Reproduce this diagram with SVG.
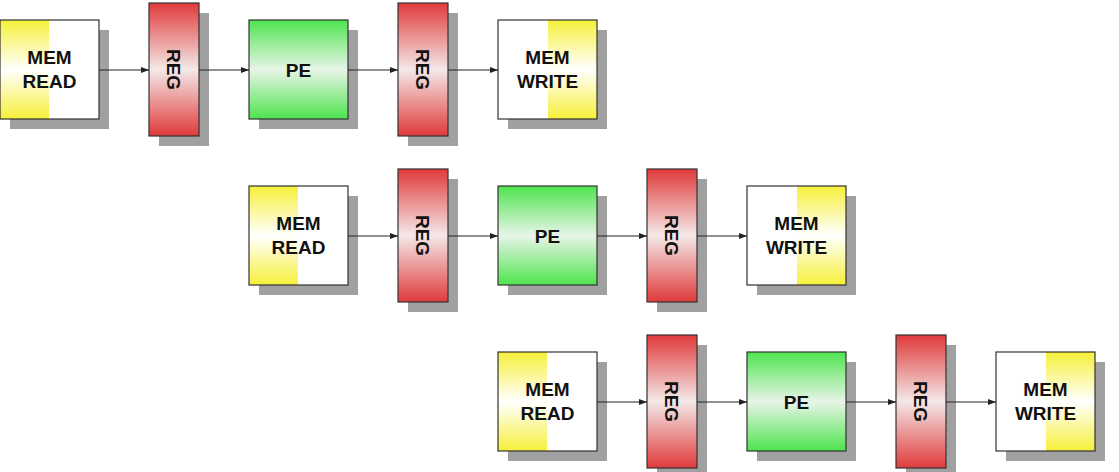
<svg xmlns="http://www.w3.org/2000/svg" width="1119" height="472" viewBox="0 0 1119 472">
<defs>
<linearGradient id="gy" x1="0" y1="0" x2="0" y2="1"><stop offset="0" stop-color="#f6f03a"/><stop offset="0.5" stop-color="#ffffff"/><stop offset="1" stop-color="#f6f03a"/></linearGradient>
<linearGradient id="gr" x1="0" y1="0" x2="0" y2="1"><stop offset="0" stop-color="#e03a3a"/><stop offset="0.5" stop-color="#f4e8e8"/><stop offset="1" stop-color="#e03a3a"/></linearGradient>
<linearGradient id="gg" x1="0" y1="0" x2="0" y2="1"><stop offset="0" stop-color="#4ee44e"/><stop offset="0.5" stop-color="#e8f4e8"/><stop offset="1" stop-color="#4ee44e"/></linearGradient>
<marker id="ah" markerWidth="8" markerHeight="6" refX="8" refY="3" orient="auto" markerUnits="userSpaceOnUse"><path d="M0,0 L8,3 L0,6 z" fill="#222"/></marker>
<g id="memr"><rect x="10" y="10" width="99" height="99" fill="#a0a0a0"/><rect x="0" y="0" width="99" height="99" fill="#fff"/><rect x="0" y="0" width="49" height="99" fill="url(#gy)"/><rect x="0" y="0" width="99" height="99" fill="none" stroke="#333" stroke-width="1.2"/><text x="49.5" y="44" class="t">MEM</text><text x="49.5" y="68" class="t">READ</text></g>
<g id="memw"><rect x="10" y="10" width="99" height="99" fill="#a0a0a0"/><rect x="0" y="0" width="99" height="99" fill="#fff"/><rect x="50" y="0" width="49" height="99" fill="url(#gy)"/><rect x="0" y="0" width="99" height="99" fill="none" stroke="#333" stroke-width="1.2"/><text x="49.5" y="44" class="t">MEM</text><text x="49.5" y="68" class="t">WRITE</text></g>
<g id="reg"><rect x="10" y="10" width="50" height="133" fill="#a0a0a0"/><rect x="0" y="0" width="50" height="133" fill="url(#gr)" stroke="#333" stroke-width="1.2"/><text class="t" transform="translate(25,66.5) rotate(90)" y="7">REG</text></g>
<g id="pe"><rect x="10" y="10" width="99" height="99" fill="#a0a0a0"/><rect x="0" y="0" width="99" height="99" fill="url(#gg)" stroke="#333" stroke-width="1.2"/><text x="49.5" y="57" class="t">PE</text></g>
</defs>
<style>.t{font-family:"Liberation Sans",Arial,sans-serif;font-weight:bold;font-size:19px;fill:#111;text-anchor:middle}.c{stroke:#222;stroke-width:1.2;fill:none;marker-end:url(#ah)}</style>
<rect width="1119" height="472" fill="#fff"/>
<g id="r1_memread"><use href="#memr" x="0" y="20"/></g>
<g id="r1_reg1"><use href="#reg" x="149" y="3"/></g>
<g id="r1_pe"><use href="#pe" x="249" y="20"/></g>
<g id="r1_reg2"><use href="#reg" x="398" y="3"/></g>
<g id="r1_memwrite"><use href="#memw" x="498" y="20"/></g>
<g id="r2_memread"><use href="#memr" x="249" y="186"/></g>
<g id="r2_reg1"><use href="#reg" x="398" y="169"/></g>
<g id="r2_pe"><use href="#pe" x="498" y="186"/></g>
<g id="r2_reg2"><use href="#reg" x="647" y="169"/></g>
<g id="r2_memwrite"><use href="#memw" x="747" y="186"/></g>
<g id="r3_memread"><use href="#memr" x="498" y="352"/></g>
<g id="r3_reg1"><use href="#reg" x="647" y="335"/></g>
<g id="r3_pe"><use href="#pe" x="747" y="352"/></g>
<g id="r3_reg2"><use href="#reg" x="896" y="335"/></g>
<g id="r3_memwrite"><use href="#memw" x="996" y="352"/></g>
<g id="connectors">
<path class="c" d="M99,70 H149"/><path class="c" d="M199,70 H249"/><path class="c" d="M348,70 H398"/><path class="c" d="M448,70 H498"/>
<path class="c" d="M348,236 H398"/><path class="c" d="M448,236 H498"/><path class="c" d="M597,236 H647"/><path class="c" d="M697,236 H747"/>
<path class="c" d="M597,402 H647"/><path class="c" d="M697,402 H747"/><path class="c" d="M846,402 H896"/><path class="c" d="M946,402 H996"/>
</g>
</svg>
